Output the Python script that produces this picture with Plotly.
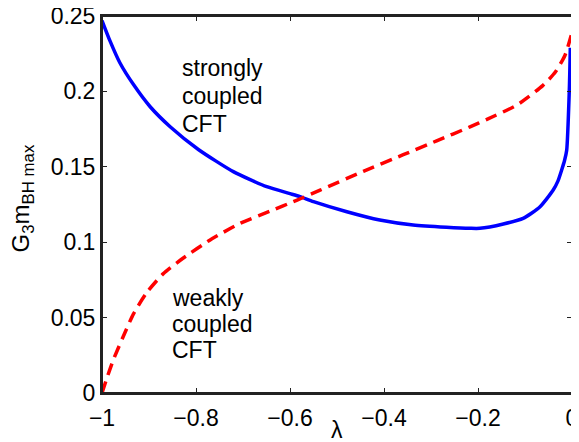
import plotly.graph_objects as go

# Strongly coupled CFT (blue, solid)
lam_strong = [-1.0, -0.983, -0.962, -0.933, -0.898, -0.855, -0.795, -0.7206, -0.6496,
              -0.6, -0.5787, -0.55, -0.479, -0.409, -0.338, -0.267, -0.217, -0.196,
              -0.146, -0.104, -0.068, -0.04, -0.03, -0.022, -0.016, -0.0113, -0.0057, -0.0036]
g_strong = [0.247, 0.2335, 0.219, 0.2045, 0.190, 0.1766, 0.1615, 0.1468, 0.1368,
            0.1322, 0.1302, 0.1269, 0.1202, 0.1147, 0.1114, 0.1099, 0.1092, 0.1092,
            0.1121, 0.1158, 0.1235, 0.1346, 0.1405, 0.1479, 0.154, 0.161, 0.201, 0.229]

# Weakly coupled CFT (red, dashed)
lam_weak = [-1.0, -0.99, -0.976, -0.955, -0.933, -0.905, -0.870, -0.827, -0.770, -0.706,
            -0.643, -0.586, -0.536, -0.444, -0.359, -0.288, -0.217, -0.181, -0.117,
            -0.0617, -0.035, -0.0149, 0.0]
g_weak = [0.0, 0.0095, 0.0219, 0.0373, 0.0525, 0.0665, 0.079, 0.0895, 0.1015, 0.1125,
          0.1205, 0.1278, 0.1345, 0.147, 0.158, 0.1672, 0.1765, 0.1815, 0.191,
          0.204, 0.213, 0.224, 0.239]

x_ticks = [-1, -0.8, -0.6, -0.4, -0.2, 0]
x_tick_labels = ["\u22121", "\u22120.8", "\u22120.6", "\u22120.4", "\u22120.2", "0"]
y_ticks = [0, 0.05, 0.1, 0.15, 0.2, 0.25]
y_tick_labels = ["0", "0.05", "0.1", "0.15", "0.2", "0.25"]

strong_label_lines = ["strongly", "coupled", "CFT"]
weak_label_lines = ["weakly", "coupled", "CFT"]

FONT = "Liberation Sans, Arial, Helvetica, sans-serif"
FS = 23

fig = go.Figure()
fig.add_trace(go.Scatter(x=lam_strong, y=g_strong, mode="lines",
                         line=dict(color="#0000ff", width=3.5, shape="spline", smoothing=0.6),
                         showlegend=False))
fig.add_trace(go.Scatter(x=lam_weak, y=g_weak, mode="lines",
                         line=dict(color="#ff0000", width=3.5, dash="12px,7px",
                                   shape="spline", smoothing=0.6),
                         showlegend=False))

# text labels, one line each (tighter line spacing like the reference)
strong_y = [0.2155, 0.1972, 0.1786]
weak_y = [0.0630, 0.0458, 0.0283]
for txt, yy in zip(strong_label_lines, strong_y):
    fig.add_annotation(x=-0.834, y=yy, xref="x", yref="y", xanchor="left", yanchor="middle",
                       text=txt, showarrow=False,
                       font=dict(size=FS, color="black", family=FONT))
for txt, yy in zip(weak_label_lines, weak_y):
    fig.add_annotation(x=-0.856, y=yy, xref="x", yref="y", xanchor="left", yanchor="middle",
                       text=txt, showarrow=False,
                       font=dict(size=FS, color="black", family=FONT))

# axis titles
fig.add_annotation(x=0.5, y=-0.098, xref="paper", yref="paper", xanchor="center",
                   yanchor="middle", text="\u03bb", showarrow=False,
                   font=dict(size=FS, color="black", family=FONT))
fig.add_annotation(x=-0.169, y=0.515, xref="paper", yref="paper", xanchor="center",
                   yanchor="middle", text="G<sub>3</sub>m<sub>BH max</sub>", textangle=-90,
                   showarrow=False, font=dict(size=24, color="black", family=FONT))

# box frame around the plot area
fig.add_shape(type="rect", xref="paper", yref="paper", x0=0, x1=1, y0=0, y1=1,
              line=dict(color="#222222", width=2), fillcolor="rgba(0,0,0,0)", layer="above")

axis_common = dict(showline=True, linecolor="#222222", linewidth=2, mirror="ticks",
                   ticks="inside", ticklen=5, tickwidth=1, tickcolor="#222222",
                   showgrid=False, zeroline=False, automargin=False,
                   ticklabeloverflow="allow",
                   tickfont=dict(size=FS, color="black", family=FONT))

fig.update_xaxes(range=[-1, 0], tickvals=x_ticks, ticktext=x_tick_labels,
                 ticklabelstandoff=3, **axis_common)
fig.update_yaxes(range=[0, 0.25], tickvals=y_ticks, ticktext=y_tick_labels,
                 **axis_common)

# the page body adds an 8px offset, so the figure is 8px smaller and shifted margins
fig.update_layout(width=571, height=434, margin=dict(l=94, r=7, t=8, b=49),
                  paper_bgcolor="white", plot_bgcolor="white",
                  font=dict(family=FONT, color="black"))

fig.write_html("out.html")
